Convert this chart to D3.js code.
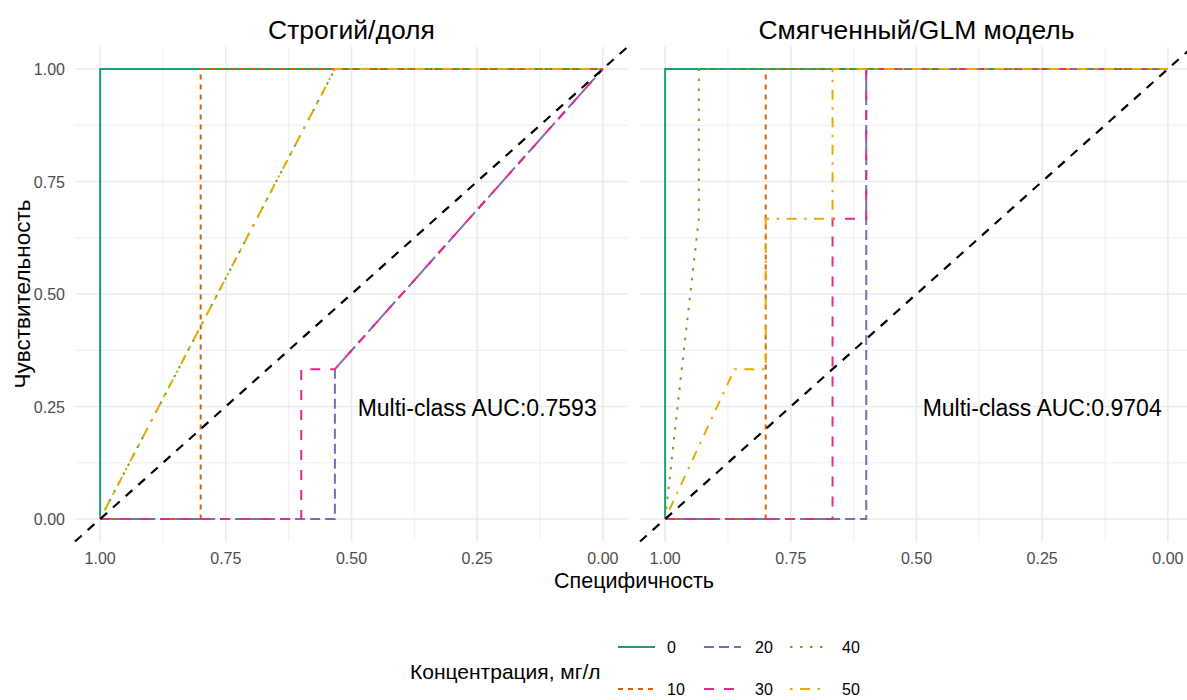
<!DOCTYPE HTML>
<html lang="ru">
<head>
<meta charset="utf-8">
<title>ROC</title>
<script src="https://cdn.jsdelivr.net/npm/d3@7/dist/d3.min.js"></script>
<style>
html,body{margin:0;padding:0;background:#fff}
svg text{font-family:"Liberation Sans",Arial,sans-serif}
</style>
</head>
<body>
<div id="chart"></div>
<script>
// classes and panels
var classes=["0","10","20","30","40","50"];
var panelTitles=["Строгий/доля","Смягченный/GLM модель"];
var aucLabels=["Multi-class AUC:0.7593","Multi-class AUC:0.9704"];
var majorTicks=[1.00,0.75,0.50,0.25,0.00];
var minorTicks=[0.875,0.625,0.375,0.125];

// ROC points [specificity, sensitivity], strict / proportion model
var strict0=[[1,0],[1,1],[0,1]];
var strict10=[[1,0],[0.8,0],[0.8,1],[0,1]];
var strict20=[[1,0],[0.533,0],[0.533,0.333],[0,1]];
var strict30=[[1,0],[0.6,0],[0.6,0.333],[0.533,0.333],[0,1]];
var strict40=[[1,0],[0.533,1],[0,1]];
var strict50=[[1,0],[0.533,1],[0,1]];
// soft / GLM model
var glm0=[[1,0],[1,1],[0,1]];
var glm10=[[1,0],[0.8,0],[0.8,1],[0,1]];
var glm20=[[1,0],[0.6,0],[0.6,1],[0,1]];
var glm30=[[1,0],[0.667,0],[0.667,0.667],[0.6,0.667],[0.6,1],[0,1]];
var glm40=[[1,0],[0.967,0.333],[0.933,0.667],[0.933,1],[0,1]];
var glm50=[[1,0],[0.862,0.333],[0.8,0.333],[0.8,0.667],[0.667,0.667],[0.667,1],[0,1]];

var panelData=[[strict0,strict10,strict20,strict30,strict40,strict50],
               [glm0,glm10,glm20,glm30,glm40,glm50]];

var colors=["#1B9E77","#D95F02","#7570B3","#E7298A","#66A61E","#E6AB02"];
var lw=2;
var dashes=["none","5,5","10,5","10,10","2.5,7.5","2.5,7.5,10,7.5"];

var W=1187,H=700;
var panelLeft=[75,640], panelW=553;
var panelTop=46.5, panelBottom=541.5;

var svg=d3.select("#chart").append("svg")
    .attr("width",W).attr("height",H);

var yScale=d3.scaleLinear().domain([-0.05,1.05]).range([panelBottom,panelTop]);

function drawPanel(p) {
    var xScale=d3.scaleLinear().domain([1.05,-0.05]).range([panelLeft[p],panelLeft[p]+panelW]);
    var g=svg.append("g");
    var x0=panelLeft[p], x1=panelLeft[p]+panelW;
    // minor grid
    g.selectAll(".vmin").data(minorTicks).enter().append("line")
        .attr("x1",function(d){return xScale(d)}).attr("x2",function(d){return xScale(d)})
        .attr("y1",panelTop).attr("y2",panelBottom)
        .attr("stroke","#EBEBEB").attr("stroke-width",0.8);
    g.selectAll(".hmin").data(minorTicks).enter().append("line")
        .attr("y1",function(d){return yScale(d)}).attr("y2",function(d){return yScale(d)})
        .attr("x1",x0).attr("x2",x1)
        .attr("stroke","#EBEBEB").attr("stroke-width",0.8);
    // major grid
    g.selectAll(".vmaj").data(majorTicks).enter().append("line")
        .attr("x1",function(d){return xScale(d)}).attr("x2",function(d){return xScale(d)})
        .attr("y1",panelTop).attr("y2",panelBottom)
        .attr("stroke","#EBEBEB").attr("stroke-width",1.6);
    g.selectAll(".hmaj").data(majorTicks).enter().append("line")
        .attr("y1",function(d){return yScale(d)}).attr("y2",function(d){return yScale(d)})
        .attr("x1",x0).attr("x2",x1)
        .attr("stroke","#EBEBEB").attr("stroke-width",1.6);

    var line=d3.line().x(function(d){return xScale(d[0])}).y(function(d){return yScale(d[1])});
    panelData[p].forEach(function(pts,i){
        g.append("path").datum(pts)
            .attr("d",line)
            .attr("fill","none")
            .attr("stroke",colors[i])
            .attr("stroke-width",lw)
            .attr("stroke-dasharray",dashes[i]);
    });
    // chance line sensitivity = 1 - specificity
    g.append("path").datum([[1.05,-0.05],[-0.05,1.05]])
        .attr("d",line).attr("fill","none")
        .attr("stroke","#000").attr("stroke-width",2.2)
        .attr("stroke-dasharray","9,8");

    g.append("text")
        .attr("x",xScale(0.25)).attr("y",yScale(0.25)+9)
        .attr("text-anchor","middle")
        .attr("font-size","23px").attr("fill","#000")
        .text(aucLabels[p]);

    g.selectAll(".xt").data(majorTicks).enter().append("text")
        .attr("x",function(d){return xScale(d)}).attr("y",564)
        .attr("text-anchor","middle")
        .attr("font-size","16px").attr("fill","#4D4D4D")
        .text(function(d){return d.toFixed(2)});

    g.append("text")
        .attr("x",(x0+x1)/2).attr("y",39)
        .attr("text-anchor","middle")
        .attr("font-size","26.5px").attr("fill","#000")
        .text(panelTitles[p]);
}

drawPanel(0);
drawPanel(1);

// y axis ticks (left panel only)
svg.selectAll(".yt").data(majorTicks).enter().append("text")
    .attr("x",65).attr("y",function(d){return yScale(d)+6})
    .attr("text-anchor","end")
    .attr("font-size","16px").attr("fill","#4D4D4D")
    .text(function(d){return d.toFixed(2)});

svg.append("text")
    .attr("transform","translate(30,"+((panelTop+panelBottom)/2)+") rotate(-90)")
    .attr("text-anchor","middle")
    .attr("font-size","22.5px")
    .text("Чувствительность");

svg.append("text")
    .attr("x",(panelLeft[0]+panelLeft[1]+panelW)/2).attr("y",588)
    .attr("text-anchor","middle")
    .attr("font-size","21.5px")
    .text("Специфичность");

// legend
var legend=svg.append("g");
legend.append("text")
    .attr("x",410).attr("y",679)
    .attr("font-size","21px")
    .text("Концентрация, мг/л");
var keyX=[618,704,790], labelX=[667,755,842], rowY=[647,689];
classes.forEach(function(c,i){
    var col=Math.floor(i/2), row=i%2;
    legend.append("line")
        .attr("x1",keyX[col]).attr("x2",keyX[col]+37)
        .attr("y1",rowY[row]).attr("y2",rowY[row])
        .attr("stroke",colors[i]).attr("stroke-width",lw)
        .attr("stroke-dasharray",dashes[i]);
    legend.append("text")
        .attr("x",labelX[col]).attr("y",rowY[row]+6)
        .attr("font-size","16px").attr("fill","#000")
        .text(c);
});
</script>
</body>
</html>
